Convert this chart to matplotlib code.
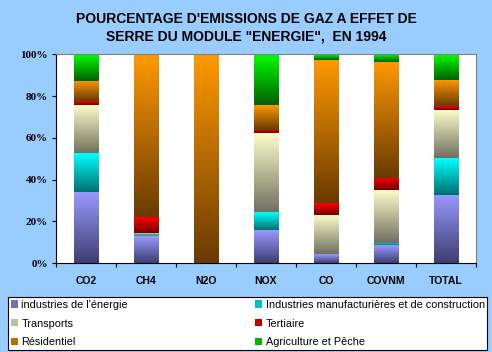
import numpy as np
import matplotlib.pyplot as plt
from matplotlib.colors import LinearSegmentedColormap
from matplotlib.patches import Patch

categories = ["CO2", "CH4", "N2O", "NOX", "CO", "COVNM", "TOTAL"]

industries_energie = [34.0, 12.9, 0.0, 15.8, 4.3, 8.6, 32.6]
industries_manuf = [18.6, 0.4, 0.0, 8.6, 0.0, 1.0, 17.7]
transports = [23.1, 1.2, 0.0, 37.9, 18.7, 25.4, 23.0]
tertiaire = [1.9, 7.5, 0.0, 1.6, 5.6, 5.9, 1.9]
residentiel = [9.6, 78.0, 100.0, 11.8, 68.7, 55.6, 12.5]
agriculture = [12.8, 0.0, 0.0, 24.3, 2.7, 3.5, 12.3]

series = [
    ("industries de l'énergie", industries_energie, "#3d3d70", "#9999ff"),
    ("Industries manufacturières et de construction", industries_manuf, "#007070", "#00ffff"),
    ("Transports", transports, "#707060", "#ffffcc"),
    ("Tertiaire", tertiaire, "#700000", "#ff0000"),
    ("Résidentiel", residentiel, "#6a3a00", "#ff9900"),
    ("Agriculture et Pêche", agriculture, "#006000", "#00ff00"),
]

fig = plt.figure(figsize=(4.92, 3.52), dpi=100)
fig.patch.set_facecolor("#99ccff")
ax = fig.add_axes([0.1138, 0.2528, 0.8537, 0.5929])

x = np.arange(len(categories))
grad = np.linspace(0, 1, 128).reshape(-1, 1)
bottom = np.zeros(len(categories))
handles = []
for name, vals, dark, light in series:
    vals = np.array(vals)
    bars = ax.bar(x, vals, 0.4, bottom=bottom, color="none", linewidth=0)
    cmap = LinearSegmentedColormap.from_list(name, [dark, light])
    for p in bars.patches:
        if p.get_height() <= 0:
            continue
        x0, y0 = p.get_x(), p.get_y()
        im = ax.imshow(grad, cmap=cmap, origin="lower", aspect="auto",
                       extent=[x0, x0 + p.get_width(), y0, y0 + p.get_height()],
                       interpolation="bilinear", zorder=2)
        im.set_clip_path(p)
    bottom += vals
    mid = cmap(0.55)
    handles.append(Patch(facecolor=mid, edgecolor="none", label=name))

ax.set_xlim(-0.5, len(categories) - 0.5)
ax.set_ylim(0, 100)
ax.set_facecolor("white")

ax.set_yticks(range(0, 101, 20))
ax.set_yticklabels([f"{v}%" for v in range(0, 101, 20)],
                   fontfamily="Liberation Serif", fontweight="bold", fontsize=8)
ax.tick_params(axis="y", length=3, width=0.8, pad=3)

ax.set_xticks(x)
ax.set_xticklabels(categories, fontfamily="Liberation Sans", fontweight="bold", fontsize=7.5)
ax.set_xticks(np.arange(-0.5, len(categories), 1), minor=True)
ax.tick_params(axis="x", which="major", length=0, pad=9)
ax.tick_params(axis="x", which="minor", length=3, width=0.8)

for s in ["top", "right"]:
    ax.spines[s].set_color("#808080")
for s in ["left", "bottom"]:
    ax.spines[s].set_color("black")

fig.text(0.5, 0.965, "POURCENTAGE D'EMISSIONS DE GAZ A EFFET DE\nSERRE DU MODULE \"ENERGIE\",  EN 1994",
         ha="center", va="top", fontfamily="Liberation Sans", fontweight="bold",
         fontsize=10, linespacing=1.3)

order = [0, 2, 4, 1, 3, 5]
leg = fig.legend([handles[i] for i in order], [handles[i].get_label() for i in order],
                 ncol=2, loc="lower left", bbox_to_anchor=(0.016, 0.006),
                 fancybox=False, edgecolor="black", framealpha=1,
                 prop={"family": "Liberation Sans", "size": 7.8},
                 handlelength=0.7, handleheight=0.65, handletextpad=0.3,
                 labelspacing=0.8, borderpad=0.25, columnspacing=11.7, borderaxespad=0)
leg.get_frame().set_linewidth(0.8)

fig.savefig("out.png", dpi=100, facecolor=fig.get_facecolor())
